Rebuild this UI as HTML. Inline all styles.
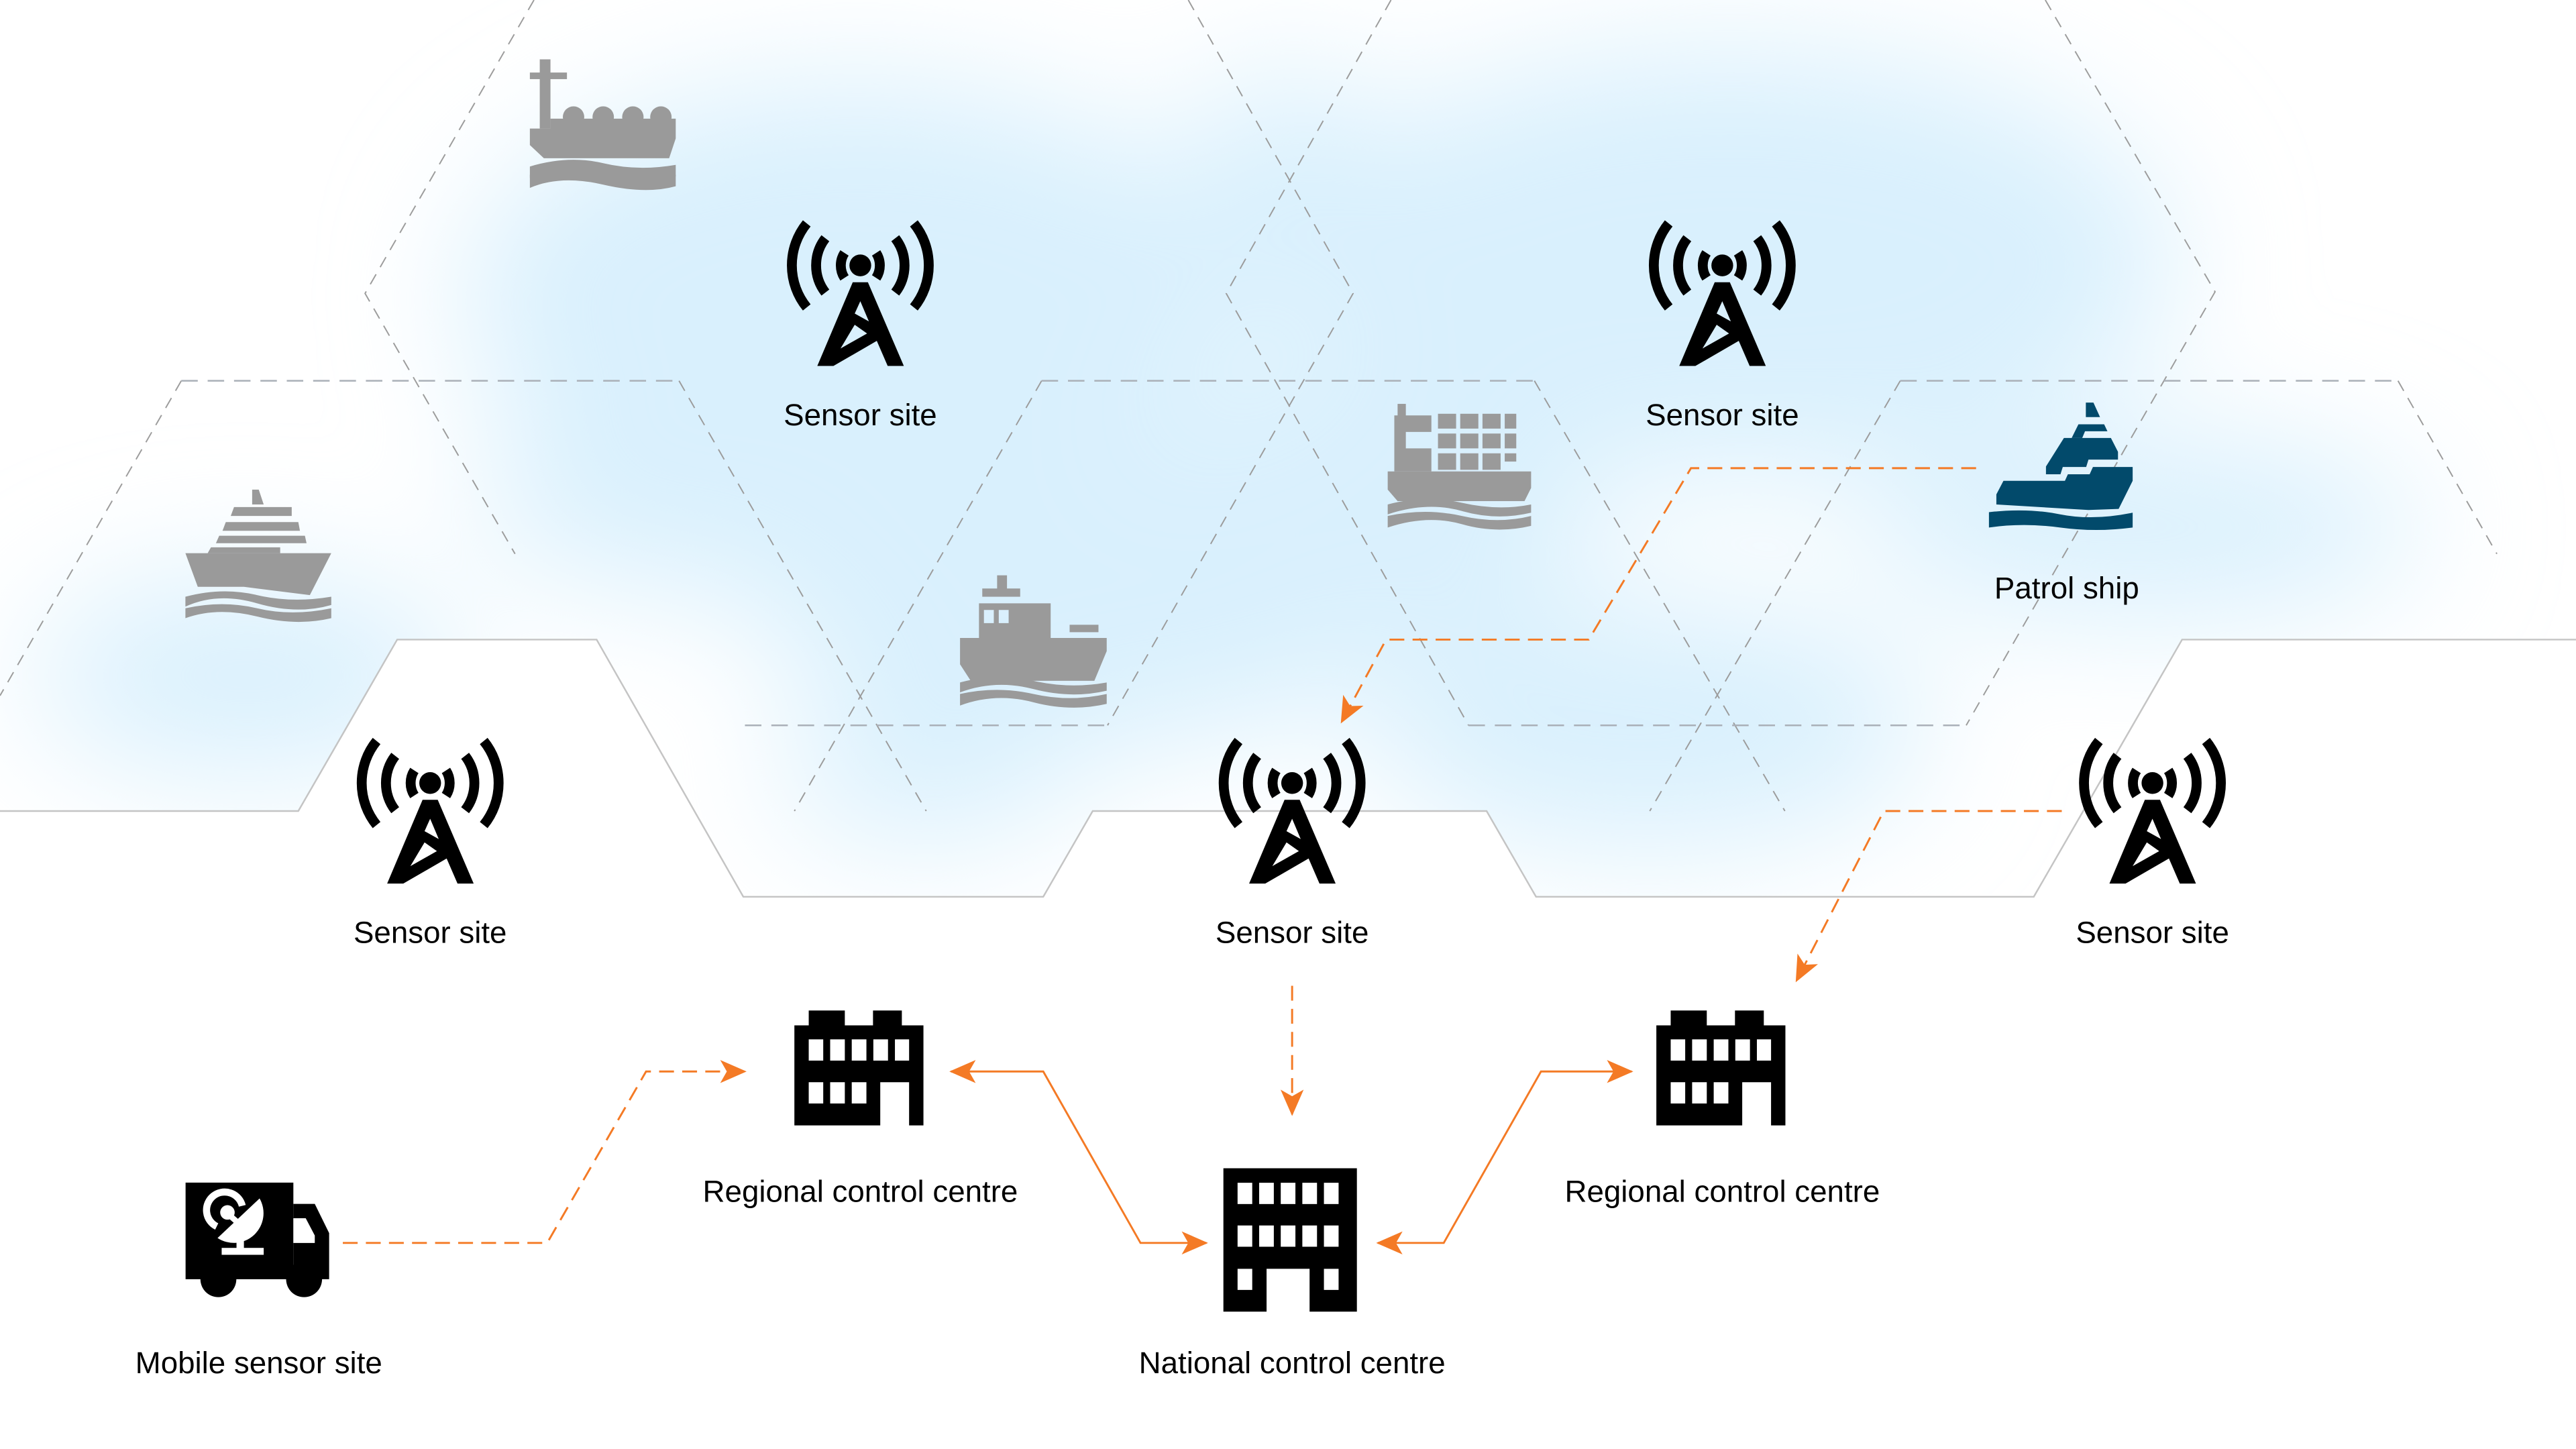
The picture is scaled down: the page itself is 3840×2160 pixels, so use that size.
<!DOCTYPE html>
<html><head><meta charset="utf-8"><style>
html,body{margin:0;padding:0;background:#fff;}
svg{display:block;}
text{font-family:"Liberation Sans",Arial,sans-serif;font-size:18.6px;fill:#000;text-anchor:middle;}
</style></head><body>
<svg width="3840" height="2160" viewBox="0 0 1563 879" preserveAspectRatio="none" xmlns="http://www.w3.org/2000/svg">
<defs>
<filter id="blur" x="-50%" y="-50%" width="200%" height="200%"><feGaussianBlur stdDeviation="40"/></filter>
<clipPath id="zone"><polygon points="0,0 1563,0 1563,388 1324,388 1234,544 932,544 902,492 663,492 633,544 451,544 362,388 241,388 181,492 0,492"/></clipPath>
<marker id="ah" markerUnits="userSpaceOnUse" markerWidth="18" markerHeight="14" refX="15" refY="7" orient="auto-start-reverse" viewBox="0 0 18 14">
<path d="M0,0 L16,7 L0,14 L4,7 z" fill="#f47a25"/></marker>
<g id="tower">
<g fill="none" stroke="#000" stroke-width="6">
<path d="M-9.6,-7.6 A14,14 0 0 0 -9.6,7.6"/><path d="M9.6,-7.6 A14,14 0 0 1 9.6,7.6"/>
<path d="M-21.2,-16.5 A27,27 0 0 0 -21.2,16.5"/><path d="M21.2,-16.5 A27,27 0 0 1 21.2,16.5"/>
<path d="M-32.5,-25.5 A40.5,40.5 0 0 0 -32.5,25.5"/><path d="M32.5,-25.5 A40.5,40.5 0 0 1 32.5,25.5"/>
</g>
<circle cx="0" cy="0" r="6.6" fill="#000"/>
<path fill="#000" fill-rule="evenodd" d="M-4.6,10.2 L4.6,10.2 L26.4,61 L16.6,61 L10,45.8 L-16.3,61 L-26.1,61 Z M0,21.7 L5.2,34 L-3.4,29.2 Z M-3.4,36 L4.1,41.3 L-12,50.4 Z"/>
</g>
<g id="regional">
<rect x="8.7" y="0" width="21.9" height="10" fill="#000"/>
<rect x="47.7" y="0" width="17.5" height="10" fill="#000"/>
<path fill="#000" d="M0,9 H78.3 V69.7 H69.6 V43.5 H52.1 V69.7 H0 Z"/>
<g fill="#fff"><rect x="8.7" y="17.5" width="8.8" height="12.9"/><rect x="21.7" y="17.5" width="8.9" height="12.9"/><rect x="34.8" y="17.5" width="8.9" height="12.9"/><rect x="47.9" y="17.5" width="8.9" height="12.9"/><rect x="61" y="17.5" width="8.6" height="12.9"/>
<rect x="8.7" y="43.5" width="8.8" height="12.9"/><rect x="21.7" y="43.5" width="8.9" height="12.9"/><rect x="34.8" y="43.5" width="8.9" height="12.9"/></g>
</g>
</defs>

<g clip-path="url(#zone)" filter="url(#blur)" fill="#d9f0fd">
<ellipse cx="520" cy="180" rx="240" ry="130"/>
<ellipse cx="1050" cy="160" rx="270" ry="130"/>
<ellipse cx="150" cy="410" rx="130" ry="60"/>
<ellipse cx="660" cy="360" rx="200" ry="95"/>
<ellipse cx="1000" cy="440" rx="170" ry="75"/>
<ellipse cx="1300" cy="320" rx="170" ry="55"/>
<ellipse cx="440" cy="300" rx="150" ry="60"/>
<ellipse cx="840" cy="300" rx="130" ry="90"/>
<ellipse cx="560" cy="470" rx="90" ry="40"/>
<ellipse cx="780" cy="120" rx="60" ry="80"/>
</g>

<g fill="none" stroke="#9c9c9c" stroke-width="0.8" stroke-dasharray="7,5">
<polyline points="324,0 221.5,178 312.5,336"/>
<polyline points="721,0 821,178 672,440"/>
<polyline points="844,0 744,178 891,440"/>
<polyline points="110,231 0,422"/>
<polyline points="412,231 562,492"/>
<polyline points="632,231 482,492"/>
<polyline points="931,231 1083,492"/>
<polyline points="1241,0 1344,177 1193,440"/>
<polyline points="1153,231 1001,492"/>
<polyline points="1455,231 1515,336"/>
</g>
<g fill="none" stroke="#aab0b8" stroke-width="1" stroke-dasharray="10,6">
<line x1="110" y1="231" x2="412" y2="231"/>
<line x1="632" y1="231" x2="931" y2="231"/>
<line x1="1153" y1="231" x2="1455" y2="231"/>
<line x1="452" y1="440" x2="672" y2="440"/>
<line x1="891" y1="440" x2="1193" y2="440"/>
</g>

<polyline fill="none" stroke="#c4c4c4" stroke-width="1" points="0,492 181,492 241,388 362,388 451,544 633,544 663,492 902,492 932,544 1234,544 1324,388 1563,388"/>

<g fill="#9a9a9a">
<rect x="327.5" y="36" width="6.5" height="42"/>
<rect x="321.5" y="44" width="22.5" height="4"/>
<circle cx="348" cy="71" r="6.5"/><circle cx="366" cy="71" r="6.5"/><circle cx="384" cy="71" r="6.5"/><circle cx="401" cy="71" r="6.5"/>
<polygon points="334,72 410,72 410,84 406,96 330,96 321.5,88 321.5,78 334,78"/>
<path d="M321.5,101 Q345,94 366,99 T410,100 V107 Q392,112 366,106 T321.5,108 Z"/>
<path d="M321.5,106 Q345,100 366,105 T410,106 V113 Q392,118 366,112 T321.5,114 Z"/>
<polygon points="153,297 157,297 160,306 153,306"/>
<polygon points="142,307.6 177,307.6 177,313 140,313"/>
<polygon points="137,316.7 181,316.7 182,322 135,322"/>
<polygon points="133,325 185,325 186,329.5 131,329.5"/>
<polygon points="128,332 170,332 170,335.6 126,335.6"/>
<polygon points="112.5,335.6 201,335.6 188,361 148,356 120,356"/>
<path d="M112.5,362 Q135,356 156,361 T201,362 V367 Q180,373 156,366 T112.5,368 Z"/>
<path d="M112.5,369 Q135,364 156,369 T201,369 V375 Q180,380 156,374 T112.5,375 Z"/>
<rect x="605" y="349" width="6" height="10"/>
<rect x="596" y="357" width="23" height="5"/>
<path d="M594,366 H637.5 V388 H594 Z M597,370 V378 H603 V370 Z M606,370 V378 H612 V370 Z"/>
<rect x="649" y="379" width="17.5" height="4.5"/>
<polygon points="582.5,387 671.5,387 671.5,395 664,413 589,413 582.5,403"/>
<path d="M582.5,414 Q605,408 627,413 T671.5,414 V419 Q650,424 627,418 T582.5,420 Z"/>
<path d="M582.5,421 Q605,416 627,421 T671.5,421 V427 Q650,432 627,426 T582.5,428 Z"/>
<rect x="848" y="245" width="5" height="8"/>
<path d="M846,252 H868.5 V262 H853 V272 H868.5 V286 H846 Z"/>
<g>
<rect x="872.5" y="251" width="11" height="9"/><rect x="886" y="251" width="11" height="9"/><rect x="899.5" y="251" width="11" height="9"/><rect x="913" y="251" width="7" height="9"/>
<rect x="872.5" y="263" width="11" height="9"/><rect x="886" y="263" width="11" height="9"/><rect x="899.5" y="263" width="11" height="9"/><rect x="913" y="263" width="7" height="9"/>
<rect x="872.5" y="275" width="11" height="10"/><rect x="886" y="275" width="11" height="10"/><rect x="899.5" y="275" width="11" height="10"/><rect x="913" y="275" width="7" height="5"/>
</g>
<polygon points="842,286 929,286 929,296 925,304 848,304 842,297"/>
<path d="M842,306 Q865,300 887,305 T929,306 V311 Q908,316 887,310 T842,312 Z"/>
<path d="M842,313 Q865,308 887,313 T929,313 V319 Q908,324 887,318 T842,320 Z"/>
</g>

<g fill="#024a6b">
<polygon points="1265.6,244.2 1270.2,244.2 1274.2,253 1265.6,253"/>
<polygon points="1261.1,257.4 1276.7,257.4 1278.7,261.6 1265.1,261.6 1263.4,265.7 1257,265.7"/>
<polygon points="1252.3,265.7 1280.8,265.7 1285.1,274.1 1285.1,278.8 1267.2,278.8 1265.8,283.3 1251.6,283.3 1250.2,287.7 1241.4,287.7 1241.4,283"/>
<polygon points="1215.6,291.7 1252.9,291.7 1254.7,287.7 1267.9,287.7 1269.9,283.3 1294,283.3 1294,291.7 1285.5,308.7 1267.2,309.4 1211.3,306 1211.3,299.9"/>
<path d="M1206.8,310.7 Q1230,308 1250,312 T1294,311 V320 Q1272,323 1250,320 T1206.8,320 Z"/>
</g>

<g>
<rect x="112.6" y="717.4" width="65.4" height="58.6" fill="#000"/>
<polygon points="178,730.3 191,730.3 199.7,748 199.7,776 178,776" fill="#000"/>
<polygon points="178,739 185.5,739 191,749.5 191,754 178,754" fill="#fff"/>
<circle cx="132.5" cy="776" r="10.9" fill="#000"/><circle cx="184.5" cy="776" r="10.9" fill="#000"/>
<path d="M131.5,744 A11,11 0 1 1 147,731.5" fill="none" stroke="#fff" stroke-width="4.3"/>
<circle cx="138" cy="735.5" r="4.4" fill="#fff"/>
<path d="M157.5,727 A18,18 0 0 1 132,751 Z" fill="#fff"/>
<line x1="139" y1="737" x2="147" y2="744" stroke="#fff" stroke-width="3.5"/>
<rect x="143.5" y="752" width="4.5" height="6" fill="#fff"/>
<rect x="134.5" y="757" width="25.5" height="4.2" fill="#fff"/>
</g>

<use href="#tower" x="522" y="161"/>
<use href="#tower" x="1045" y="161"/>
<use href="#tower" x="261" y="475"/>
<use href="#tower" x="784" y="475"/>
<use href="#tower" x="1306" y="475"/>

<use href="#regional" x="482" y="613"/>
<use href="#regional" x="1005" y="613"/>
<g transform="translate(742.3,708.7)">
<path fill="#000" d="M0,0 H81 V87 H52.3 V61 H26.2 V87 H0 Z"/>
<g fill="#fff">
<rect x="8.6" y="8.8" width="8.9" height="12.9"/><rect x="21.7" y="8.8" width="8.9" height="12.9"/><rect x="34.8" y="8.8" width="8.9" height="12.9"/><rect x="47.9" y="8.8" width="8.9" height="12.9"/><rect x="61" y="8.8" width="8.9" height="12.9"/>
<rect x="8.6" y="34.7" width="8.9" height="12.9"/><rect x="21.7" y="34.7" width="8.9" height="12.9"/><rect x="34.8" y="34.7" width="8.9" height="12.9"/><rect x="47.9" y="34.7" width="8.9" height="12.9"/><rect x="61" y="34.7" width="8.9" height="12.9"/>
<rect x="8.6" y="61" width="8.9" height="12.8"/><rect x="61" y="61" width="8.9" height="12.8"/>
</g></g>

<g fill="none" stroke="#f47a25" stroke-width="1.2">
<polyline stroke-dasharray="9,5" points="1199,284 1026,284 964,388 841,388 814,438" marker-end="url(#ah)"/>
<polyline stroke-dasharray="9,5" points="1251,492 1143,492 1090,595" marker-end="url(#ah)"/>
<polyline stroke-dasharray="9,5" points="784,598 784,676" marker-end="url(#ah)"/>
<polyline stroke-dasharray="9,5" points="208,754 332,754 392,650 452,650" marker-end="url(#ah)"/>
<polyline points="577,650 633,650 692,754 732,754" marker-start="url(#ah)" marker-end="url(#ah)"/>
<polyline points="990,650 935,650 876,754 836,754" marker-start="url(#ah)" marker-end="url(#ah)"/>
</g>

<text x="522" y="258">Sensor site</text>
<text x="1045" y="258">Sensor site</text>
<text x="261" y="572">Sensor site</text>
<text x="784" y="572">Sensor site</text>
<text x="1306" y="572">Sensor site</text>
<text x="1254" y="363">Patrol ship</text>
<text x="522" y="729">Regional control centre</text>
<text x="1045" y="729">Regional control centre</text>
<text x="784" y="833">National control centre</text>
<text x="157" y="833">Mobile sensor site</text>
</svg>
</body></html>
